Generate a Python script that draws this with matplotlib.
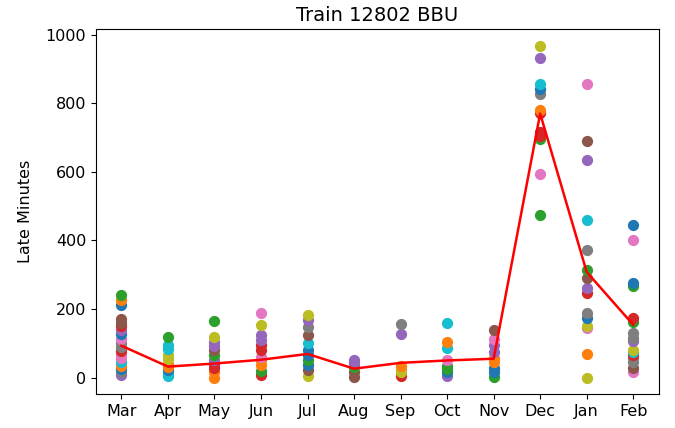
import matplotlib
matplotlib.use("Agg")
import matplotlib.pyplot as plt

# month labels
months = ["Mar", "Apr", "May", "Jun", "Jul", "Aug", "Sep", "Oct", "Nov", "Dec", "Jan", "Feb"]

# late minutes per month
mar = [241, 225, 212, 172, 160, 150, 138, 126, 112, 100, 88, 78, 68, 58, 45, 35, 25, 15, 8]
apr = [119, 96, 84, 67, 55, 40, 32, 22, 12, 5]
may = [166, 119, 105, 92, 81, 65, 52, 40, 29, 15, 0]
jun = [189, 154, 125, 110, 96, 81, 61, 50, 38, 20, 9]
jul = [183, 168, 148, 125, 102, 81, 67, 52, 38, 23, 5]
aug = [52, 42, 30, 17, 3]
sep = [157, 128, 35, 22, 15, 5]
oct_ = [160, 105, 87, 52, 35, 25, 15, 6]
nov = [140, 113, 96, 75, 58, 46, 29, 17, 3]
dec = [968, 933, 857, 843, 828, 780, 773, 715, 706, 697, 593, 474]
jan = [857, 689, 636, 459, 372, 314, 291, 262, 247, 189, 174, 151, 145, 70, 0]
feb = [445, 401, 276, 266, 174, 163, 131, 116, 107, 81, 75, 67, 58, 46, 29, 15]

# monthly average (red line)
avg = [93, 32, 41, 52, 69, 26, 43, 50, 55, 770, 308, 154]

# tab10 colour index of each dot
mar_c = "2105534067736691074"
apr_c = "2998811099"
may_c = "28445243311"
jun_c = "68443361123"
jul_c = "84759002058"
aug_c = "44255"
sep_c = "741883"
oct_c = "91962204"
nov_c = "564411002"
dec_c = "849071333262"
jan_c = "654972543708618"
feb_c = "0602327748937756"

values = [mar, apr, may, jun, jul, aug, sep, oct_, nov, dec, jan, feb]
colours = [mar_c, apr_c, may_c, jun_c, jul_c, aug_c, sep_c, oct_c, nov_c, dec_c, jan_c, feb_c]

plt.rcParams['font.size'] = 11.5

fig, ax = plt.subplots(figsize=(6.75, 4.28), dpi=100)
fig.subplots_adjust(left=0.142, right=0.976, top=0.932, bottom=0.079)

# plot the dots, bottom ones first
for i, (vals, cols) in enumerate(zip(values, colours)):
    for v, c in reversed(list(zip(vals, cols))):
        ax.scatter(months[i], v, color="C" + c, s=50, zorder=2)

ax.plot(months, avg, color="red", linewidth=1.8, zorder=3)

ax.set_title("Train 12802 BBU", fontsize=14)
ax.set_ylabel("Late Minutes", labelpad=9)

plt.savefig("out.png", dpi=100)
